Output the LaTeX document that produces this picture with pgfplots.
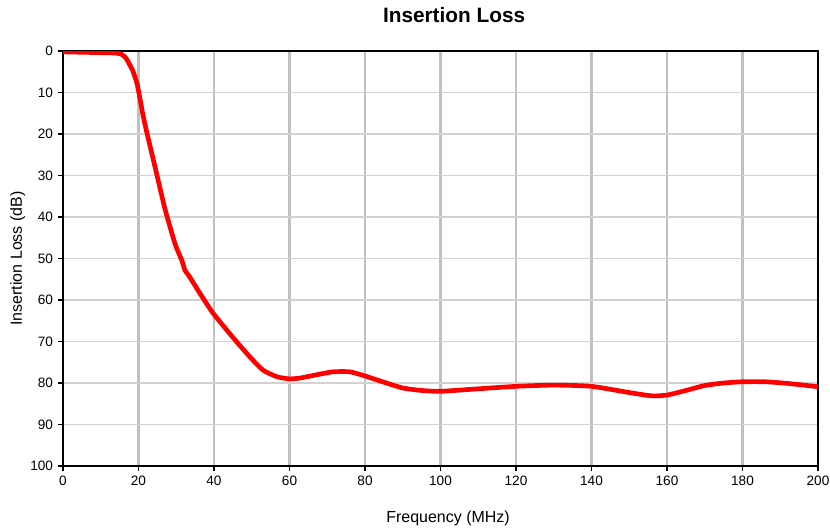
\documentclass[border=0pt]{standalone}
\usepackage{pgfplots}
\pgfplotsset{compat=1.18}
\usepackage{fontspec}
\setmainfont{Liberation Sans}
\definecolor{vgrid}{RGB}{192,192,192}
\definecolor{hgrid}{RGB}{210,210,210}
\definecolor{curvered}{RGB}{255,0,0}

\begin{document}
\begin{tikzpicture}
\begin{axis}[
    scale only axis,
    width=566.25pt,
    height=311.25pt,
    xmin=0, xmax=200,
    ymin=0, ymax=100,
    y dir=reverse,
    xtick={0,20,...,200},
    ytick={0,10,...,100},
    tick align=outside,
    tick pos=left,
    major tick length=4pt,
    every tick/.style={black, line width=1.2pt},
    axis line style={line width=1.6pt},
    xmajorgrids, ymajorgrids,
    x grid style={vgrid, line width=2pt},
    y grid style={hgrid, line width=1.1pt},
    /pgf/number format/assume math mode=true,
    tick label style={font=\fontsize{10.2pt}{12pt}\selectfont},
    xlabel={Frequency (MHz)},
    ylabel={Insertion Loss (dB)},
    label style={font=\fontsize{12pt}{14pt}\selectfont},
    xlabel style={at={(axis description cs:0.51,0)}, anchor=center, yshift=-39pt},
    ylabel style={at={(axis description cs:0,0.5)}, anchor=center, yshift=34pt},
    title={Insertion Loss},
    title style={font=\fontsize{15.6pt}{18pt}\selectfont\bfseries,
        at={(axis description cs:0.518,1)}, anchor=center, yshift=21pt},
]
\addplot[curvered, line width=3.5pt, line join=round, line cap=round, smooth, tension=0.35] coordinates {
(0,0.2) (5,0.3) (10,0.4) (14,0.5) (15.5,0.8) (16.5,1.5) (17.2,2.5)
(18.5,4.8) (19.6,7.8) (20.4,11.5) (21.2,15.5) (22.3,20) (24.4,28)
(27,38) (29.7,46.5) (31.5,50.5) (32.3,52.8) (33.6,54.5) (36,58)
(39.7,63.1) (45,69) (49.5,73.7) (53,76.9) (56.7,78.5) (60,79)
(62.8,78.8) (67.3,78) (71.5,77.3) (76,77.3) (80,78.3) (85,79.8)
(90,81.2) (95,81.8) (100,82) (110,81.4) (120,80.8) (130,80.5)
(140,80.8) (150,82.3) (156,83.1) (160,82.9) (165,81.8) (170,80.6)
(175,80) (180,79.7) (186,79.7) (192,80.1) (200,80.9)
};
\end{axis}
\pgfresetboundingbox
\path (-47.25pt,-47.25pt) rectangle (575.25pt,349.5pt);
\end{tikzpicture}
\end{document}
